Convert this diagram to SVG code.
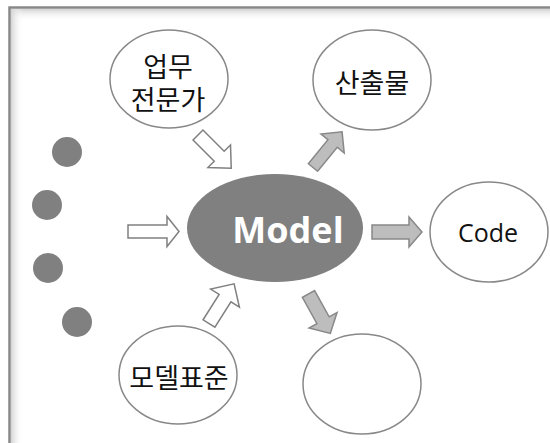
<svg xmlns="http://www.w3.org/2000/svg" width="550" height="443" viewBox="0 0 550 443">
  <defs>
    <linearGradient id="shadeTop" x1="0" y1="0" x2="0" y2="1">
      <stop offset="0" stop-color="#d4d4d4"/>
      <stop offset="1" stop-color="#ffffff" stop-opacity="0"/>
    </linearGradient>
    <linearGradient id="shadeLeft" x1="0" y1="0" x2="1" y2="0">
      <stop offset="0" stop-color="#d4d4d4"/>
      <stop offset="1" stop-color="#ffffff" stop-opacity="0"/>
    </linearGradient>
  </defs>
  <style>
    .bubble { fill: #ffffff; stroke: #888888; stroke-width: 1.5; }
    .dot { fill: #808080; }
    .in { fill: #ffffff; stroke: #808080; stroke-width: 1.5; stroke-linejoin: miter; }
    .out { fill: #bdbdbd; stroke: #888888; stroke-width: 1.5; stroke-linejoin: miter; }
    .ko { font-family: "Noto Sans CJK KR", "Noto Sans", sans-serif; font-size: 27px; fill: #111111; text-anchor: middle; }
    .lat { font-family: "Open Sans", "Noto Sans", sans-serif; font-size: 25px; fill: #111111; text-anchor: middle; }
  </style>

  <!-- frame with inner shading -->
  <rect x="0" y="0" width="550" height="443" fill="#ffffff"/>
  <rect x="11" y="9" width="539" height="12" fill="url(#shadeTop)"/>
  <rect x="11" y="9" width="12" height="434" fill="url(#shadeLeft)"/>
  <path d="M9.5,443 L9.5,7.5 L550,7.5" fill="none" stroke="#888888" stroke-width="2.5"/>

  <!-- connectors -->
  <g id="connectors">
    <path class="in" transform="translate(128,231.5)" d="M0,-6.5 L39,-6.5 L39,-15 L51,0 L39,15 L39,6.5 L0,6.5 Z"/>
    <path class="in" transform="translate(198,135) rotate(45)" d="M0,-7 L30,-7 L30,-16 L47,0 L30,16 L30,7 L0,7 Z"/>
    <path class="in" transform="translate(209,323.5) rotate(-57.7)" d="M0,-7 L30,-7 L30,-17 L47,0 L30,17 L30,7 L0,7 Z"/>
    <path class="out" transform="translate(313,167.5) rotate(-50.8)" d="M0,-6 L31,-6 L31,-15 L46,0 L31,15 L31,6 L0,6 Z"/>
    <path class="out" transform="translate(372,232)" d="M0,-7 L37,-7 L37,-15 L50,0 L37,15 L37,7 L0,7 Z"/>
    <path class="out" transform="translate(308.5,294) rotate(61)" d="M0,-7 L30,-7 L30,-16 L45,0 L30,16 L30,7 L0,7 Z"/>
  </g>

  <!-- decorative dots -->
  <g id="dots">
    <circle class="dot" cx="67" cy="152" r="15"/>
    <circle class="dot" cx="47" cy="205" r="15"/>
    <circle class="dot" cx="48" cy="268" r="15"/>
    <circle class="dot" cx="77" cy="322" r="15"/>
  </g>

  <g id="model">
    <ellipse cx="275" cy="228" rx="88" ry="54" fill="#808080"/>
    <text x="288" y="243" font-family="'Open Sans', 'Noto Sans', sans-serif" font-size="36" font-weight="bold" fill="#ffffff" text-anchor="middle">Model</text>
  </g>

  <g id="expert">
    <ellipse class="bubble" cx="169" cy="79" rx="59" ry="49"/>
    <text class="ko" x="168" y="77">업무</text>
    <text class="ko" x="168" y="110">전문가</text>
  </g>

  <g id="output">
    <ellipse class="bubble" cx="372" cy="80" rx="59" ry="50"/>
    <text class="ko" x="372" y="93">산출물</text>
  </g>

  <g id="code">
    <ellipse class="bubble" cx="489" cy="232" rx="59" ry="50"/>
    <text class="lat" x="488" y="242">Code</text>
  </g>

  <g id="blank">
    <ellipse class="bubble" cx="362" cy="384" rx="59" ry="50"/>
  </g>

  <g id="standard">
    <ellipse class="bubble" cx="178" cy="375" rx="59" ry="49"/>
    <text class="ko" x="179" y="388">모델표준</text>
  </g>
</svg>
